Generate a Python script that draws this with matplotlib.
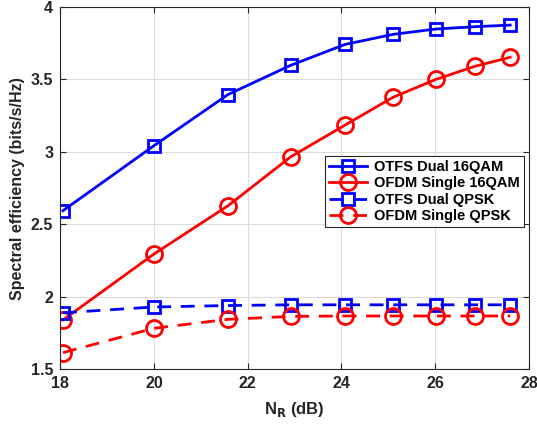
import matplotlib
matplotlib.use('Agg')
import matplotlib.pyplot as plt
import numpy as np

# receive antennas squared, expressed in dB
n_r_db = [18.06, 20.0, 21.58, 22.92, 24.08, 25.1, 26.02, 26.85, 27.6]

otfs_dual_16qam = [2.594, 3.042, 3.395, 3.597, 3.741, 3.81, 3.847, 3.863, 3.874]
ofdm_single_16qam = [1.84, 2.295, 2.628, 2.966, 3.185, 3.376, 3.50, 3.590, 3.652]
otfs_dual_qpsk = [1.89, 1.93, 1.94, 1.945, 1.945, 1.945, 1.945, 1.945, 1.945]
ofdm_single_qpsk = [1.615, 1.783, 1.845, 1.865, 1.868, 1.868, 1.868, 1.868, 1.868]

labels = ['OTFS Dual 16QAM', 'OFDM Single 16QAM', 'OTFS Dual QPSK', 'OFDM Single QPSK']

plt.rcParams['font.family'] = ['Liberation Sans', 'DejaVu Sans']
plt.rcParams['font.weight'] = 'bold'

fig = plt.figure(figsize=(5.37, 4.26), dpi=100)
ax = fig.add_axes([0.112, 0.133, 0.873, 0.851])

dash = (0, (5, 3.5))
ax.plot(n_r_db, otfs_dual_16qam, '-', color='#0000ff', lw=2, marker='s', ms=9,
        mfc='none', mew=2, label=labels[0])
ax.plot(n_r_db, ofdm_single_16qam, '-', color='#ff0000', lw=2, marker='o', ms=11.5,
        mfc='none', mew=2, label=labels[1])
ax.plot(n_r_db, otfs_dual_qpsk, linestyle=dash, color='#0000ff', lw=2, marker='s', ms=9,
        mfc='none', mew=2, label=labels[2])
ax.plot(n_r_db, ofdm_single_qpsk, linestyle=dash, color='#ff0000', lw=2, marker='o', ms=11.5,
        mfc='none', mew=2, label=labels[3])

ax.set_xlim(18, 28)
ax.set_ylim(1.5, 4)
ax.set_xticks(np.arange(18, 29, 2))
ax.set_yticks(np.arange(1.5, 4.01, 0.5))
ax.set_yticklabels(['1.5', '2', '2.5', '3', '3.5', '4'])
ax.grid(True, color='#dcdcdc', lw=0.8)
ax.set_axisbelow(True)
ax.tick_params(direction='in', top=True, right=True, labelsize=11.5, colors='#262626',
               length=4, width=0.8, pad=5)
for s in ax.spines.values():
    s.set_color('#262626')
    s.set_linewidth(0.8)

ax.set_xlabel(r'N$_\mathbf{R}$ (dB)', fontsize=12, fontweight='bold', color='#262626',
              labelpad=6)
ax.set_ylabel('Spectral efficiency (bits/s/Hz)', fontsize=11.5, fontweight='bold',
              color='#262626')

leg = ax.legend(loc='lower right', bbox_to_anchor=(0.99, 0.392), fontsize=10.5,
                frameon=True, fancybox=False, edgecolor='#262626', framealpha=1,
                handlelength=2.6, borderpad=0.3, labelspacing=0.15, handletextpad=0.5,
                borderaxespad=0)
leg.get_frame().set_linewidth(0.8)

fig.savefig('out.png', dpi=100)
